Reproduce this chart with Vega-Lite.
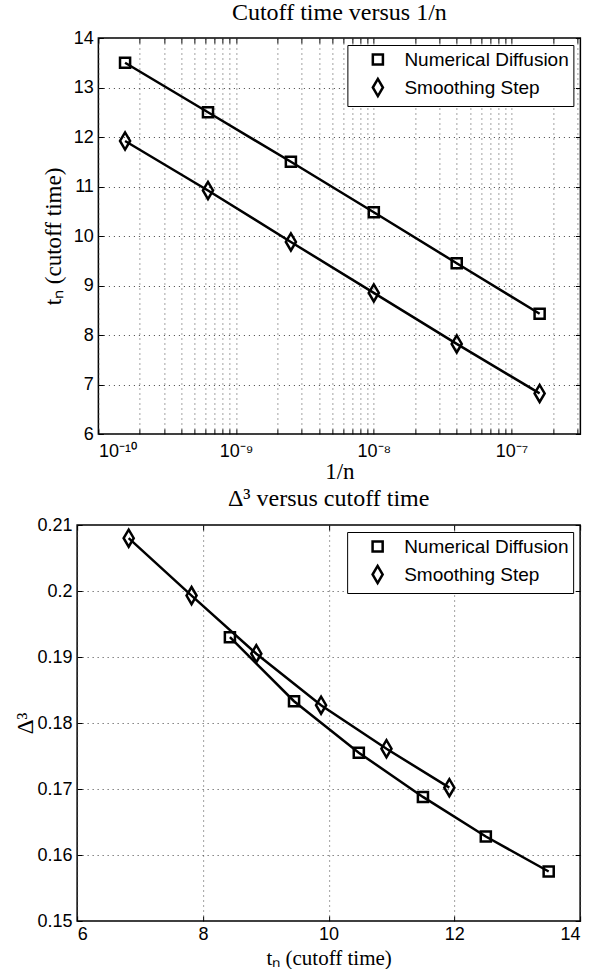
{
  "$schema": "https://vega.github.io/schema/vega-lite/v6.json",
  "padding": {"left": 13, "top": 0, "right": 0, "bottom": 0},
  "background": "white",
  "datasets": {
    "runs": [
      {"series": "Numerical Diffusion", "inv_n": 1.5625e-10, "t": 13.5, "delta": 0.1575},
      {"series": "Numerical Diffusion", "inv_n": 6.25e-10, "t": 12.5, "delta": 0.1628},
      {"series": "Numerical Diffusion", "inv_n": 2.5e-9, "t": 11.5, "delta": 0.1688},
      {"series": "Numerical Diffusion", "inv_n": 1e-8, "t": 10.48, "delta": 0.1755},
      {"series": "Numerical Diffusion", "inv_n": 4e-8, "t": 9.45, "delta": 0.1833},
      {"series": "Numerical Diffusion", "inv_n": 1.6e-7, "t": 8.43, "delta": 0.193},
      {"series": "Smoothing Step", "inv_n": 1.5625e-10, "t": 11.92, "delta": 0.1702},
      {"series": "Smoothing Step", "inv_n": 6.25e-10, "t": 10.92, "delta": 0.1761},
      {"series": "Smoothing Step", "inv_n": 2.5e-9, "t": 9.88, "delta": 0.1827},
      {"series": "Smoothing Step", "inv_n": 1e-8, "t": 8.85, "delta": 0.1905},
      {"series": "Smoothing Step", "inv_n": 4e-8, "t": 7.82, "delta": 0.1993},
      {"series": "Smoothing Step", "inv_n": 1.6e-7, "t": 6.82, "delta": 0.208}
    ]
  },
  "data": {"name": "runs"},
  "spacing": 2,
  "center": true,
  "vconcat": [
    {
      "width": 482,
      "height": 396,
      "title": {"text": "Cutoff time versus 1/n", "offset": 4, "fontSize": 24},
      "layer": [
        {
          "mark": {"type": "line", "color": "black", "strokeWidth": 2.5},
          "encoding": {
            "x": {
              "field": "inv_n", "type": "quantitative",
              "scale": {"type": "log", "domain": [1e-10, 3.1623e-7], "nice": false},
              "axis": {
                "orient": "bottom",
                "title": "1/n",
                "values": [1e-10, 2e-10, 3e-10, 4e-10, 5e-10, 6e-10, 7e-10, 8e-10, 9e-10, 1e-9, 2e-9, 3e-9, 4e-9, 5e-9, 6e-9, 7e-9, 8e-9, 9e-9, 1e-8, 2e-8, 3e-8, 4e-8, 5e-8, 6e-8, 7e-8, 8e-8, 9e-8, 1e-7, 2e-7, 3e-7],
                "labelExpr": "datum.value == 1e-10 ? '10⁻¹⁰' : datum.value == 1e-9 ? '10⁻⁹' : datum.value == 1e-8 ? '10⁻⁸' : datum.value == 1e-7 ? '10⁻⁷' : ''",
                "labelOverlap": false,
                "labelPadding": 8,
                "grid": true,
                "titlePadding": 0
              }
            },
            "y": {
              "field": "t", "type": "quantitative",
              "scale": {"domain": [6, 14], "nice": false},
              "axis": {"orient": "left", "title": "tₙ (cutoff time)", "values": [6, 7, 8, 9, 10, 11, 12, 13, 14], "grid": true, "titlePadding": 8}
            },
            "detail": {"field": "series"}
          }
        },
        {
          "mark": {"type": "point", "filled": false, "color": "black", "strokeWidth": 2.5, "size": 324, "opacity": 1},
          "encoding": {
            "x": {
              "field": "inv_n", "type": "quantitative",
              "axis": {"orient": "top", "offset": -5, "values": [1e-10, 2e-10, 3e-10, 4e-10, 5e-10, 6e-10, 7e-10, 8e-10, 9e-10, 1e-9, 2e-9, 3e-9, 4e-9, 5e-9, 6e-9, 7e-9, 8e-9, 9e-9, 1e-8, 2e-8, 3e-8, 4e-8, 5e-8, 6e-8, 7e-8, 8e-8, 9e-8, 1e-7, 2e-7, 3e-7], "labels": false, "ticks": true, "tickSize": 5, "grid": false, "title": null, "minExtent": 0}
            },
            "y": {
              "field": "t", "type": "quantitative",
              "axis": {"orient": "right", "offset": -5, "values": [6, 7, 8, 9, 10, 11, 12, 13, 14], "labels": false, "ticks": true, "tickSize": 5, "grid": false, "title": null, "minExtent": 0}
            },
            "shape": {
              "field": "series", "type": "nominal",
              "scale": {"domain": ["Numerical Diffusion", "Smoothing Step"], "range": ["M-0.56,-0.56H0.56V0.56H-0.56Z", "M-0.56,0L0,-0.95L0.56,0L0,0.95Z"]},
              "legend": {"title": null}
            }
          }
        },
        {
          "mark": {"type": "point", "opacity": 0},
          "encoding": {
            "x": {
              "field": "inv_n", "type": "quantitative",
              "axis": {"orient": "bottom", "offset": -5, "values": [1e-10, 2e-10, 3e-10, 4e-10, 5e-10, 6e-10, 7e-10, 8e-10, 9e-10, 1e-9, 2e-9, 3e-9, 4e-9, 5e-9, 6e-9, 7e-9, 8e-9, 9e-9, 1e-8, 2e-8, 3e-8, 4e-8, 5e-8, 6e-8, 7e-8, 8e-8, 9e-8, 1e-7, 2e-7, 3e-7], "labels": false, "ticks": true, "tickSize": 5, "grid": false, "title": null, "minExtent": 0}
            },
            "y": {
              "field": "t", "type": "quantitative",
              "axis": {"orient": "left", "offset": -5, "values": [6, 7, 8, 9, 10, 11, 12, 13, 14], "labels": false, "ticks": true, "tickSize": 5, "grid": false, "title": null, "minExtent": 0}
            }
          }
        }
      ],
      "resolve": {"axis": {"x": "independent", "y": "independent"}}
    },
    {
      "width": 503,
      "height": 396,
      "title": {"text": "Δ³ versus cutoff time", "offset": 5, "fontSize": 24},
      "layer": [
        {
          "mark": {"type": "line", "color": "black", "strokeWidth": 2.5},
          "encoding": {
            "x": {
              "field": "t", "type": "quantitative",
              "scale": {"domain": [6, 14], "nice": false},
              "axis": {"orient": "bottom", "title": "tₙ (cutoff time)", "titleFontSize": 21, "values": [6, 8, 10, 12, 14], "format": "d", "grid": true, "labelPadding": 4, "titlePadding": 4}
            },
            "y": {
              "field": "delta", "type": "quantitative",
              "scale": {"domain": [0.15, 0.21], "nice": false},
              "axis": {"orient": "left", "title": "Δ³", "values": [0.15, 0.16, 0.17, 0.18, 0.19, 0.2, 0.21], "format": ".2~f", "grid": true, "titlePadding": 0}
            },
            "detail": {"field": "series"}
          }
        },
        {
          "mark": {"type": "point", "filled": false, "color": "black", "strokeWidth": 2.5, "size": 324, "opacity": 1},
          "encoding": {
            "x": {
              "field": "t", "type": "quantitative",
              "axis": {"orient": "top", "offset": -5, "values": [6, 8, 10, 12, 14], "labels": false, "ticks": true, "tickSize": 5, "grid": false, "title": null, "minExtent": 0}
            },
            "y": {
              "field": "delta", "type": "quantitative",
              "axis": {"orient": "right", "offset": -5, "values": [0.15, 0.16, 0.17, 0.18, 0.19, 0.2, 0.21], "labels": false, "ticks": true, "tickSize": 5, "grid": false, "title": null, "minExtent": 27}
            },
            "shape": {
              "field": "series", "type": "nominal",
              "scale": {"domain": ["Numerical Diffusion", "Smoothing Step"], "range": ["M-0.56,-0.56H0.56V0.56H-0.56Z", "M-0.56,0L0,-0.95L0.56,0L0,0.95Z"]},
              "legend": {"title": null}
            }
          }
        },
        {
          "mark": {"type": "point", "opacity": 0},
          "encoding": {
            "x": {
              "field": "t", "type": "quantitative",
              "axis": {"orient": "bottom", "offset": -5, "values": [6, 8, 10, 12, 14], "labels": false, "ticks": true, "tickSize": 5, "grid": false, "title": null, "minExtent": 0}
            },
            "y": {
              "field": "delta", "type": "quantitative",
              "axis": {"orient": "left", "offset": -5, "values": [0.15, 0.16, 0.17, 0.18, 0.19, 0.2, 0.21], "labels": false, "ticks": true, "tickSize": 5, "grid": false, "title": null, "minExtent": 0}
            }
          }
        }
      ],
      "resolve": {"axis": {"x": "independent", "y": "independent"}}
    }
  ],
  "resolve": {"scale": {"shape": "independent"}, "legend": {"shape": "independent"}},
  "config": {
    "view": {"stroke": "black", "strokeWidth": 1.5},
    "axis": {
      "domain": false, "ticks": false, "tickColor": "black", "tickWidth": 1,
      "labelFont": "Liberation Sans", "labelFontSize": 18, "labelColor": "black", "labelPadding": 5,
      "titleFont": "Liberation Serif", "titleFontSize": 23, "titleFontWeight": "normal", "titleColor": "black",
      "gridColor": "#444", "gridDash": [1, 4], "gridWidth": 1
    },
    "title": {"font": "Liberation Serif", "fontSize": 24, "fontWeight": "normal", "color": "black"},
    "legend": {
      "orient": "top-right", "offset": 7, "padding": 4,
      "strokeColor": "black", "fillColor": "white",
      "labelFont": "Liberation Sans", "labelFontSize": 19, "labelColor": "black", "labelLimit": 400,
      "symbolOffset": 16, "symbolStrokeWidth": 2.5, "symbolStrokeColor": "black", "symbolFillColor": "white",
      "symbolSize": 324, "rowPadding": 3, "labelOffset": 16
    }
  }
}
